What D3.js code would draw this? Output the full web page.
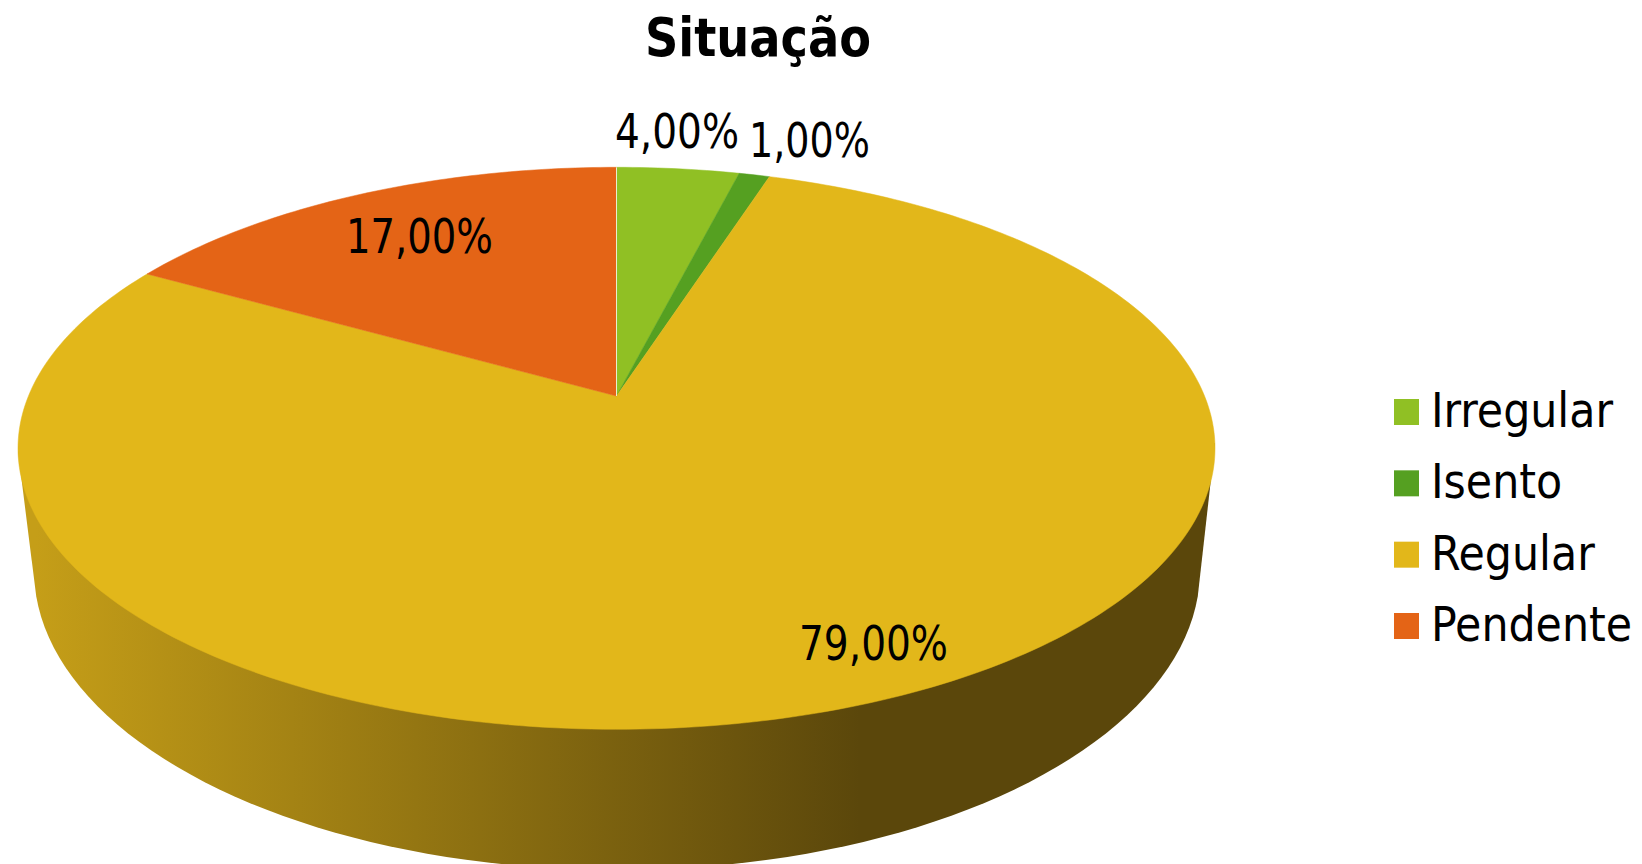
<!DOCTYPE html>
<html lang="pt">
<head>
    <meta charset="UTF-8">
    <title>Situação</title>
    <script src="https://d3js.org/d3.v7.min.js"></script>
    <style>
        html, body { margin: 0; padding: 0; background: #fff; overflow: hidden; }
        text { font-family: "DejaVu Sans"; font-stretch: condensed; fill: #000; }
    </style>
</head>
<body>
<script type="text/javascript">
    var categories = ["Irregular", "Isento", "Regular", "Pendente"];
    var values = [4, 1, 79, 17];
    var valueLabels = ["4,00%", "1,00%", "79,00%", "17,00%"];
    var colors = ["#90c024", "#55a021", "#e2b71a", "#e46416"];

    var svgWidth = 1642;
    var svgHeight = 864;

    // top face: ellipse, with the pie centre pushed up by the perspective
    var topFace = {cx: 616.5, cy: 448.3, rx: 598.5, ry: 281, tilt: -0.186};
    // bottom rim of the wall
    var bottomRim = {cx: 617, cy: 570, rx: 583, ry: 300};
    var labelAnchors = [[615, 148], [749, 157], [799, 660], [346, 253]];
    var labelWidths = [124, 121, 149, 147];

    var project = function (angle, r) {
        var u = r * Math.sin(angle);
        var v = -r * Math.cos(angle);
        var w = 1 + topFace.tilt * v;
        var s = topFace.rx * Math.sqrt(1 - topFace.tilt * topFace.tilt);
        return [
            topFace.cx + u * s / w,
            topFace.cy + topFace.ry * (v + topFace.tilt) / w
        ];
    };

    var svg = d3.select("body").append("svg")
        .attr("width", svgWidth)
        .attr("height", svgHeight)
        .style("display", "block");

    var wallGradient = svg.append("defs").append("linearGradient")
        .attr("id", "wall")
        .attr("gradientUnits", "userSpaceOnUse")
        .attr("x1", 36).attr("x2", 860)
        .attr("y1", 0).attr("y2", 0);
    wallGradient.append("stop").attr("offset", 0).attr("stop-color", "#c59e18");
    wallGradient.append("stop").attr("offset", 1).attr("stop-color", "#5b470b");

    var pie = d3.pie().sort(null).startAngle(0).endAngle(2 * Math.PI);
    var slices = pie(values);
    var line = d3.line();

    // wall, drawn first so the top face covers its upper part
    var rimPoints = d3.range(5, 176, 2).map(function (deg) {
        var a = deg * Math.PI / 180;
        return [bottomRim.cx + bottomRim.rx * Math.cos(a), bottomRim.cy + bottomRim.ry * Math.sin(a)];
    });
    var wallPoints = [[topFace.cx + topFace.rx, topFace.cy - 5]]
        .concat(rimPoints)
        .concat([[topFace.cx - topFace.rx, topFace.cy + 3]]);
    svg.append("path")
        .attr("d", line(wallPoints) + "Z")
        .attr("fill", "url(#wall)");

    var slicePath = function (d) {
        var steps = Math.max(4, Math.ceil((d.endAngle - d.startAngle) * 60));
        var pts = [project(0, 0)];
        d3.range(steps + 1).forEach(function (i) {
            pts.push(project(d.startAngle + (d.endAngle - d.startAngle) * i / steps, 1));
        });
        return line(pts) + "Z";
    };

    svg.selectAll("path.slice")
        .data(slices)
        .enter()
        .append("path")
        .attr("class", "slice")
        .attr("d", slicePath)
        .attr("fill", function (d, i) { return colors[i]; })
        .attr("stroke", function (d, i) { return colors[i]; })
        .attr("stroke-width", 0.5);

    // thin light seam where the first slice starts
    svg.append("path")
        .attr("d", line([project(0, 0), project(0, 1)]))
        .attr("stroke", "#e8efd0")
        .attr("stroke-width", 1)
        .attr("fill", "none");

    svg.selectAll("text.value")
        .data(valueLabels)
        .enter()
        .append("text")
        .attr("class", "value")
        .attr("x", function (d, i) { return labelAnchors[i][0]; })
        .attr("y", function (d, i) { return labelAnchors[i][1]; })
        .attr("font-size", 48)
        .attr("textLength", function (d, i) { return labelWidths[i]; })
        .attr("lengthAdjust", "spacingAndGlyphs")
        .text(function (d) { return d; });

    svg.append("text")
        .attr("x", 645)
        .attr("y", 56)
        .attr("font-size", 54)
        .attr("font-weight", "bold")
        .attr("textLength", 226)
        .attr("lengthAdjust", "spacingAndGlyphs")
        .text("Situação");

    var legendY = d3.scalePoint()
        .domain(categories)
        .range([399, 613]);

    var legend = svg.selectAll("g.legend")
        .data(categories)
        .enter()
        .append("g")
        .attr("class", "legend")
        .attr("transform", function (d) { return "translate(1394," + legendY(d) + ")"; });
    legend.append("rect")
        .attr("width", 25)
        .attr("height", 26)
        .attr("fill", function (d, i) { return colors[i]; });
    legend.append("text")
        .attr("x", 37)
        .attr("y", 28)
        .attr("font-size", 47.5)
        .text(function (d) { return d; });
</script>
</body>
</html>
